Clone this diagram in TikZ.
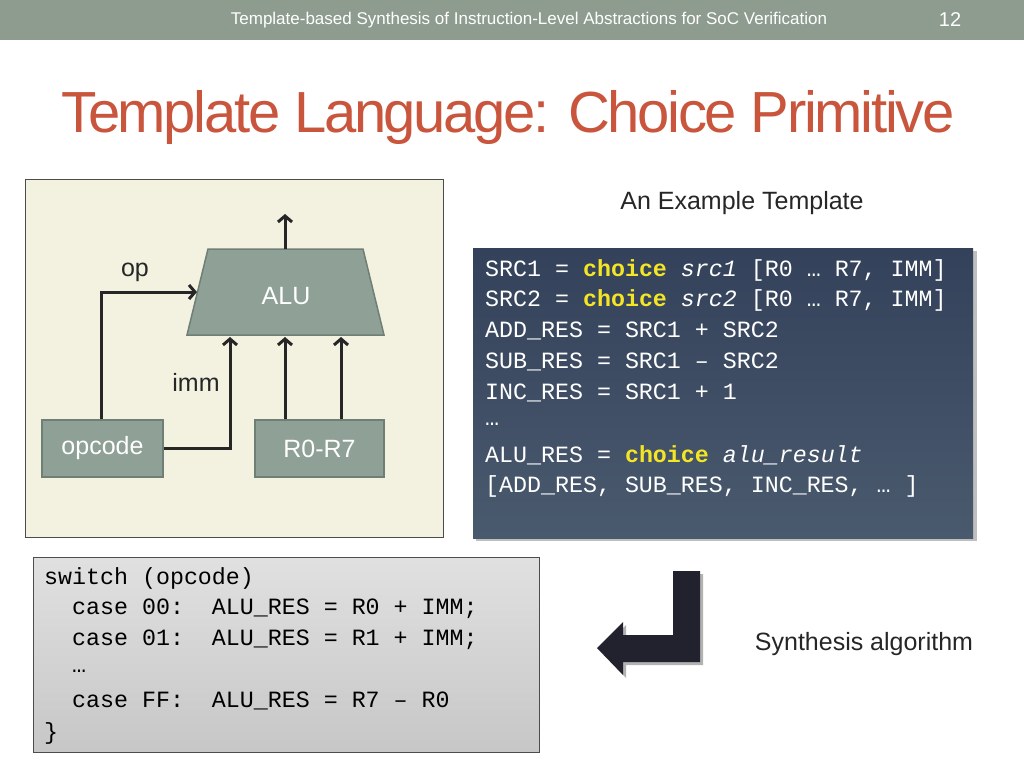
\documentclass[tikz,border=0pt]{standalone}
\usepackage{fontspec}
\setmainfont{Liberation Sans}
\newfontfamily\codefont{Liberation Mono}
\definecolor{barcol}{HTML}{8E9C90}
\definecolor{titlered}{HTML}{C9553D}
\definecolor{panelbg}{HTML}{F3F1E0}
\definecolor{boxgreen}{HTML}{8FA096}
\definecolor{boxedge}{HTML}{6F7F76}
\definecolor{codetop}{HTML}{33415A}
\definecolor{codebot}{HTML}{4A5A6E}
\definecolor{kwyellow}{HTML}{F5E625}
\definecolor{arrowdark}{HTML}{22222E}
\tikzset{
  blockbox/.style={draw=boxedge, fill=boxgreen, line width=1.5pt},
  wire/.style={line width=3pt, draw=black!85},
  wirearrow/.style={wire, -{Straight Barb[length=6pt,width=14pt]}},
  codeline/.style={anchor=west, text=white, font=\codefont\fontsize{23.3}{23.3}\selectfont, inner sep=0pt},
  graycode/.style={anchor=west, text=black, font=\codefont\fontsize{23.3}{23.3}\selectfont, inner sep=0pt},
  sidelabel/.style={font=\fontsize{25}{25}\selectfont, text=black!85}
}
\newcommand{\kw}[1]{\textcolor{kwyellow}{\textbf{#1}}}
\usetikzlibrary{arrows.meta}
\begin{document}
\begin{tikzpicture}[x=1pt,y=-1pt]
    \useasboundingbox (0,0) rectangle (1024,768);
    \fill[white] (0,0) rectangle (1024,768);

    % Header bar and title
    \fill[barcol] (0,0) rectangle (1024,40);
    \node[text=white, font=\fontsize{17}{17}\selectfont] (hdr) at (529,20) {Template-based Synthesis of Instruction-Level Abstractions for SoC Verification};
    \node[text=white, font=\fontsize{20}{20}\selectfont] (pgnum) at (950,20) {12};
    \node[text=titlered, font=\fontsize{58}{58}\selectfont] (title) at (508,118) {\addfontfeature{LetterSpace=-4}Template Language: Choice Primitive};

    % ALU block diagram
    \draw[fill=panelbg, draw=black!70, line width=0.8pt] (25,179) rectangle (443,537);
    \draw[blockbox] (208,249) -- (363,249) -- (384,335) -- (187,335) -- cycle;
    \node[text=white, font=\fontsize{25}{25}\selectfont] (alu) at (286,296) {ALU};
    \node[blockbox, minimum width=121pt, minimum height=57pt, text=white, font=\fontsize{25}{25}\selectfont] (opc) at (102.5,448.5) {opcode};
    \node[blockbox, minimum width=129pt, minimum height=57pt, text=white, font=\fontsize{25}{25}\selectfont] (regs) at (319.5,448.5) {R0-R7};
    \coordinate (aluout) at (285,249);
    \coordinate (aluop) at (197,292);
    \coordinate (aluimm) at (230,337);
    \draw[wirearrow] (aluout) -- ++(0,-35);
    \draw[wirearrow] (opc.north -| 101,0) |- (aluop);
    \draw[wirearrow] (opc.east) -| (aluimm);
    \draw[wirearrow] (regs.north -| 285,0) -- (285,337);
    \draw[wirearrow] (regs.north -| 341,0) -- (341,337);
    \node[sidelabel] (oplbl) at (135,272) {op};
    \node[sidelabel] (immlbl) at (196,382) {imm};

    % Example template
    \node[sidelabel] (exlbl) at (742,203) {An Example Template};
    \fill[black!25] (476,251) rectangle (977,541);
    \shade[top color=codetop, bottom color=codebot] (473,248) rectangle (973,538);
    \node[codeline] (c1) at (485,270) {SRC1 = \kw{choice} \textit{src1} [R0 … R7, IMM]};
    \node[codeline] (c2) at (485,300) {SRC2 = \kw{choice} \textit{src2} [R0 … R7, IMM]};
    \node[codeline] (c3) at (485,331) {ADD\_RES = SRC1 + SRC2};
    \node[codeline] (c4) at (485,362) {SUB\_RES = SRC1 – SRC2};
    \node[codeline] (c5) at (485,393) {INC\_RES = SRC1 + 1};
    \node[codeline] (c6) at (485,424) {…};
    \node[codeline] (c7) at (485,455) {ALU\_RES = \kw{choice} \textit{alu\_result}};
    \node[codeline] (c8) at (485,486) {[ADD\_RES, SUB\_RES, INC\_RES, … ]};

    % Synthesized result
    \shade[top color=black!12, bottom color=black!22, draw=black!70, line width=0.8pt] (33,557) rectangle (539,752);
    \node[graycode] (s1) at (44,578) {switch (opcode)};
    \node[graycode] (s2) at (44,609) {\ \ case 00:\ \ ALU\_RES = R0 + IMM;};
    \node[graycode] (s3) at (44,640) {\ \ case 01:\ \ ALU\_RES = R1 + IMM;};
    \node[graycode] (s4) at (44,671) {\ \ …};
    \node[graycode] (s5) at (44,701) {\ \ case FF:\ \ ALU\_RES = R7 – R0};
    \node[graycode] (s6) at (44,733) {\}};

    % Bent arrow
    \fill[black!30] (676,574) -- (703,574) -- (703,665) -- (626,665) -- (626,678) -- (600,651) -- (626,625) -- (626,638) -- (676,638) -- cycle;
    \fill[arrowdark] (673,571) -- (700,571) -- (700,662) -- (623,662) -- (623,675) -- (597,648) -- (623,622) -- (623,635) -- (673,635) -- cycle;
    \node[sidelabel] (synlbl) at (864,644) {Synthesis algorithm};
\end{tikzpicture}
\end{document}
